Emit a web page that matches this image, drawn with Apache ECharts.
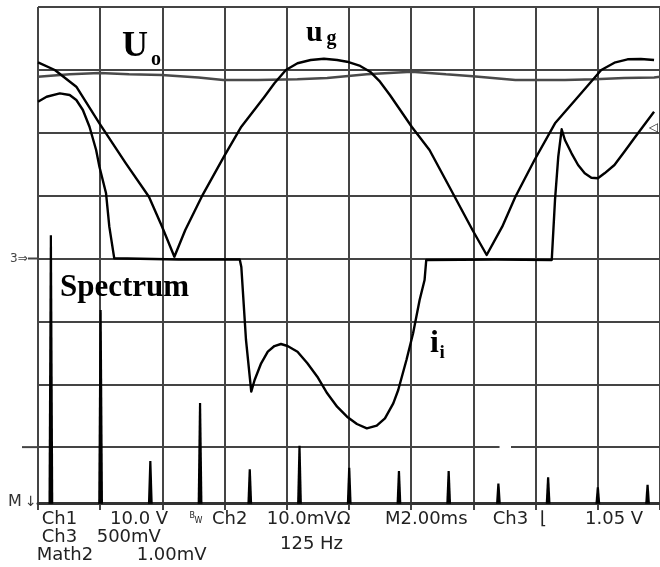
<!DOCTYPE html>
<html><head><meta charset="utf-8">
<script src="https://cdn.jsdelivr.net/npm/echarts@6/dist/echarts.min.js"></script>
<style>html,body{margin:0;padding:0;background:#fff}#c{width:660px;height:567px}</style>
</head><body><div id="c"></div>
<script>
// time in ms (M 2.00 ms/div), amplitude in screen divisions
const uoT = [0,1.02,1.98,2.93,3.98,5.16,5.96,7.07,8.34,9.30,10.57,12.01,13.12,13.98,15.35,16.94,17.90,18.85,19.81,20];
const uoV = [6.89,6.93,6.95,6.93,6.92,6.88,6.84,6.84,6.85,6.87,6.93,6.97,6.93,6.90,6.84,6.84,6.85,6.87,6.88,6.89];

const ugT = [0,0.541,1.232,1.975,2.825,3.567,3.990,4.385,4.736,5.264,5.978,6.538,7.283,7.602,7.971,8.344,8.768,9.194,9.618,9.936,10.360,10.678,10.997,11.315,12.016,12.589,13.226,13.971,14.427,14.927,15.350,15.965,16.624,17.366,18.111,18.535,18.959,19.385,19.809];
const ugV = [7.120,6.998,6.732,6.150,5.514,4.983,4.506,4.029,4.453,4.983,5.619,6.096,6.573,6.786,6.998,7.105,7.157,7.178,7.157,7.130,7.062,6.971,6.812,6.600,6.096,5.726,5.142,4.453,4.056,4.506,4.983,5.567,6.150,6.573,6.998,7.114,7.168,7.173,7.157];

const iiT = [0,0.277,0.701,1.019,1.232,1.443,1.656,1.869,1.975,2.188,2.293,2.452,4.522,6.487,6.538,6.688,6.857,6.965,7.175,7.389,7.602,7.812,8.025,8.344,8.662,8.981,9.299,9.618,9.936,10.255,10.573,10.892,11.156,11.424,11.583,11.847,12.061,12.271,12.430,12.484,14.713,16.519,16.624,16.729,16.838,16.943,17.156,17.366,17.580,17.793,18.003,18.217,18.535,18.854,19.172,19.490,19.809];
const iiV = [6.494,6.573,6.627,6.600,6.521,6.362,6.096,5.726,5.460,5.037,4.506,4.003,3.984,3.984,3.865,2.704,1.882,2.068,2.333,2.518,2.608,2.640,2.608,2.518,2.333,2.120,1.856,1.643,1.484,1.368,1.299,1.341,1.458,1.697,1.909,2.386,2.810,3.340,3.658,3.976,3.984,3.976,4.930,5.619,6.055,5.885,5.673,5.487,5.355,5.285,5.276,5.355,5.487,5.699,5.912,6.123,6.335];

// spectrum: harmonic order and amplitude (Math2, 1.00 mV/div)
const specOrder = [1,2,3,4,5,6,7,8,9,10,11,12,13];
const specAmp = [4.27,3.08,0.68,1.60,0.55,0.92,0.57,0.52,0.52,0.32,0.42,0.26,0.30];

// status-line texts
const statusLine1 = ['Ch1','10.0 V','Ch2','10.0mV\u03A9','M2.00ms','Ch3','\u230A','1.05 V'];
const statusLine2 = ['Ch3','500mV','125 Hz'];
const statusLine3 = ['Math2','1.00mV'];

const zip = (a,b) => a.map((v,i)=>[v,b[i]]);

const chart = echarts.init(document.getElementById('c'), null, {renderer:'canvas'});
const gridColor = '#444';
const hidden = {axisLine:{show:false}, axisTick:{show:false}, axisLabel:{show:false}};

const option = {
  animation:false,
  backgroundColor:'#fff',
  grid:{left:38, top:7, width:628, height:503, show:false},
  xAxis:[
    Object.assign({type:'value', min:0, max:20, interval:2,
      splitLine:{show:true, lineStyle:{color:gridColor, width:2}}}, hidden),
    {type:'value', min:0.741, max:13.25, position:'bottom',
      axisLine:{show:true, onZero:true, onZeroAxisIndex:1, lineStyle:{color:'#333', width:3}},
      axisTick:{show:false}, axisLabel:{show:false}, splitLine:{show:false}}
  ],
  yAxis:[
    Object.assign({type:'value', min:0, max:8, interval:1,
      splitLine:{show:true, showMinLine:false, lineStyle:{color:gridColor, width:2}}}, hidden),
    Object.assign({type:'value', min:-0.1, max:7.9, splitLine:{show:false}}, hidden)
  ],
  series:[
    {type:'line', name:'Uo', data:zip(uoT,uoV), showSymbol:false, symbol:'none',
      lineStyle:{color:'#4a4a4a', width:2.5}, z:3},
    {type:'line', name:'ug', data:zip(ugT,ugV), showSymbol:false, symbol:'none',
      lineStyle:{color:'#000', width:2.4, join:'round'}, z:4},
    {type:'line', name:'ii', data:zip(iiT,iiV), showSymbol:false, symbol:'none',
      lineStyle:{color:'#000', width:2.4, join:'round'}, z:4},
    {type:'custom', name:'Spectrum', xAxisIndex:1, yAxisIndex:1,
      data:zip(specOrder,specAmp), encode:{x:0,y:1}, z:5,
      renderItem:function(params, api){
        const b = api.coord([api.value(0), 0]);
        const t = api.coord([api.value(0), api.value(1)]);
        return {type:'polygon', shape:{points:[[b[0]-2.4,b[1]],[t[0]-1.1,t[1]],[t[0]+1.1,t[1]],[b[0]+2.4,b[1]]]},
          style:{fill:'#000'}};
      }}
  ]
};
chart.setOption(option);

// decorations built from axis positions
const p = v => chart.convertToPixel({xAxisIndex:0, yAxisIndex:0}, v);
const y1 = p([0,1])[1], y4 = p([0,4])[1];
const serif = 'bold {s}px "Liberation Serif", "Times New Roman", serif';
const sans = '{s}px "DejaVu Sans", sans-serif';
function txt(t, x, base, size, fontTpl, color){
  return {type:'text', z:100, style:{text:t, x:x, y:base-0.84*size, verticalAlign:'top', textAlign:'left',
    font:fontTpl.replace('{s}', size), fill:color||'#000'}};
}
const g = [
  {type:'line', z:1, shape:{x1:22, y1:y1, x2:p([0,1])[0], y2:y1}, style:{stroke:gridColor, lineWidth:2}},
  {type:'line', z:1, shape:{x1:28, y1:y4, x2:p([0,4])[0], y2:y4}, style:{stroke:gridColor, lineWidth:2}},
  {type:'line', z:2, shape:{x1:p([14.84,1])[0], y1:y1, x2:p([15.21,1])[0], y2:y1}, style:{stroke:'#fff', lineWidth:4}},
  txt('U',122,58.5,36,serif), txt('o',151,66.7,20,serif),
  txt('u',306,43.3,30,serif), txt('g',326.5,45.5,20,serif),
  txt('Spectrum',60,298.3,31,serif),
  txt('i',430,354.3,32,serif), txt('i',439.5,360,19,serif),
  txt('M',8,507,16,sans,'#333'), txt('\u2193',25,507,14,sans,'#333'),
  txt('3\u21D2',10,263,12,sans,'#444'),
  txt('\u25C1',649,132,12,sans,'#222'),
  // status lines
  txt(statusLine1[0],41.7,525,18,sans,'#222'),
  txt(statusLine1[1],110,525,18,sans,'#222'),
  txt('B',189.5,519,8,sans,'#222'), txt('W',194.5,524,8,sans,'#222'),
  txt(statusLine1[2],212,525,18,sans,'#222'),
  txt(statusLine1[3],266.7,525,18,sans,'#222'),
  txt(statusLine1[4],385,525,18,sans,'#222'),
  txt(statusLine1[5],492.7,525,18,sans,'#222'),
  txt(statusLine1[6],540,525,18,sans,'#222'),
  txt(statusLine1[7],585,525,18,sans,'#222'),
  txt(statusLine2[0],41.7,543,18,sans,'#222'),
  txt(statusLine2[1],96.7,543,18,sans,'#222'),
  txt(statusLine2[2],280,550,18,sans,'#222'),
  txt(statusLine3[0],36.7,561,18,sans,'#222'),
  txt(statusLine3[1],136.7,561,18,sans,'#222')
];
chart.setOption({graphic:g});
</script></body></html>
